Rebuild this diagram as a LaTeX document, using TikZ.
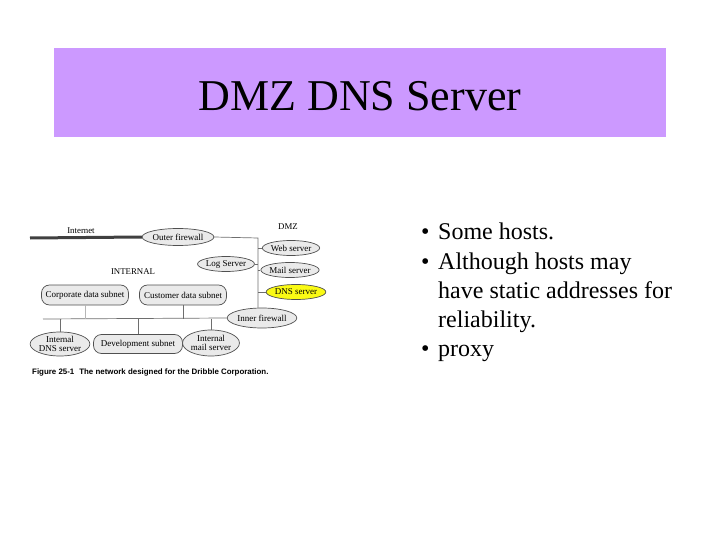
\documentclass[tikz,border=0pt]{standalone}
\usepackage{fontspec}
\setmainfont{Liberation Serif}
\newfontfamily\capfont{Liberation Sans}
\usetikzlibrary{shapes.geometric}
\definecolor{titlebg}{RGB}{204,153,255}
\definecolor{shapefill}{RGB}{234,234,234}
\definecolor{shapeline}{RGB}{80,80,80}
\definecolor{dnsyellow}{RGB}{250,250,20}
\definecolor{wirecol}{RGB}{110,110,110}
\tikzset{
  oval/.style={ellipse, draw=shapeline, fill=shapefill, line width=0.7pt, inner sep=0pt, font=\fontsize{9}{9}\selectfont, align=center},
  rbox/.style={rectangle, rounded corners=8pt, draw=shapeline, fill=shapefill, line width=0.7pt, inner sep=0pt, font=\fontsize{9}{9}\selectfont},
  wire/.style={draw=wirecol, line width=0.7pt},
  lbl/.style={font=\fontsize{8.8}{9}\selectfont, inner sep=0pt},
  bullet/.style={anchor=base west, inner sep=0pt, font=\fontsize{24}{28}\selectfont}
}
\begin{document}
\begin{tikzpicture}[x=1pt,y=-1pt]
\useasboundingbox (0,0) rectangle (720,540);
% title
\node[fill=titlebg, minimum width=612pt, minimum height=89pt, inner sep=0pt] (titlebox) at (360,92.5) {};
\node[font=\fontsize{44}{48}\selectfont, inner sep=0pt] (title) at (360,96) {DMZ DNS Server};
% bullets
\node[bullet] (b1) at (421,240) {\textbullet};
\node[bullet] (t1) at (438,240) {Some hosts.};
\node[bullet] (b2) at (421,269) {\textbullet};
\node[bullet] (t2) at (438,269) {Although hosts may};
\node[bullet] (t2b) at (438,298) {have static addresses for};
\node[bullet] (t2c) at (438,327) {reliability.};
\node[bullet] (b3) at (421,356) {\textbullet};
\node[bullet] (t3) at (438,356) {proxy};
% diagram labels
\node[lbl] (inetlbl) at (81,231) {Internet};
\node[lbl] (dmzlbl) at (288,227) {DMZ};
\node[lbl] (intlbl) at (133,272) {INTERNAL};
% nodes
\node[oval, minimum width=60pt, minimum height=17pt] (outer) at (178,237) {Outer firewall};
\node[oval, minimum width=52pt, minimum height=15pt] (web) at (291,248) {Web server};
\node[oval, minimum width=54pt, minimum height=15pt] (log) at (226,264) {Log Server};
\node[oval, minimum width=54pt, minimum height=15pt] (mail) at (290,270) {Mail server};
\node[oval, fill=dnsyellow, minimum width=58pt, minimum height=15pt] (dns) at (296,292) {DNS server};
\node[rbox, minimum width=87pt, minimum height=20pt] (corp) at (85,295) {Corporate data subnet};
\node[rbox, minimum width=87pt, minimum height=20pt] (cust) at (183,295) {Customer data subnet};
\node[oval, minimum width=62pt, minimum height=20pt] (inner) at (262,318) {Inner firewall};
\node[oval, minimum width=58pt, minimum height=24pt, font=\fontsize{9}{9}\selectfont] (idns) at (60,344) {Internal\\DNS server};
\node[rbox, minimum width=89pt, minimum height=19pt] (dev) at (138,344) {Development subnet};
\node[oval, minimum width=54pt, minimum height=26pt, font=\fontsize{9}{9}\selectfont] (imail) at (211,343) {Internal\\mail server};
% caption
\node[anchor=west, inner sep=0pt, font=\capfont\bfseries\fontsize{7.9}{9}\selectfont] (cap) at (32,372) {Figure 25-1\hspace{5pt}The network designed for the Dribble Corporation.};
% connectors
\coordinate (inetend) at (30,238);
\draw[line width=3pt, draw=black!75] (inetend) -- (outer.west);
\coordinate (dmztop) at (258,238);
\coordinate (bbleft) at (43,319);
\draw[wire] (outer.east) -- (dmztop) -- (inner.north -| dmztop);
\draw[wire] (web.west) -- (web.west -| dmztop);
\draw[wire] (mail.west) -- (mail.west -| dmztop);
\draw[wire] (log.east) -- (log.east -| dmztop);
\draw[wire] (dns.west) -- (dns.west -| dmztop);
\draw[wire] (bbleft) -- (inner.west);
\draw[wire, draw=wirecol!50] (corp.south) -- (corp.south |- bbleft);
\draw[wire] (cust.south) -- (cust.south |- bbleft);
\draw[wire] (idns.north) -- (idns.north |- bbleft);
\draw[wire] (dev.north) -- (dev.north |- bbleft);
\draw[wire] (imail.north) -- (imail.north |- bbleft);
\end{tikzpicture}
\end{document}
